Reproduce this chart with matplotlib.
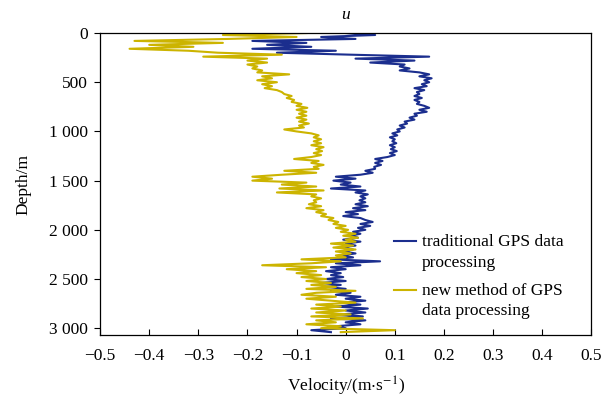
import numpy as np
import matplotlib
matplotlib.use('Agg')
import matplotlib.pyplot as plt
from matplotlib.legend_handler import HandlerLine2D

plt.rcParams['font.family'] = ['Liberation Serif', 'DejaVu Serif']
plt.rcParams['mathtext.fontset'] = 'stix'

# depth grid (m), one reading every 20 m
depth = list(range(0, 3060, 20))

# traditional GPS data processing
u_traditional = [
    0.0, 0.06, -0.05, 0.02, -0.19, -0.08, -0.16, -0.07, -0.19, -0.02,
    -0.14, 0.01, 0.17, 0.02, 0.14, 0.05, 0.12, 0.11, 0.13, 0.11,
    0.15, 0.17, 0.15, 0.175, 0.16, 0.17, 0.155, 0.165, 0.14, 0.16,
    0.145, 0.15, 0.14, 0.155, 0.14, 0.15, 0.145, 0.16, 0.17, 0.15,
    0.165, 0.14, 0.145, 0.13, 0.14, 0.12, 0.125, 0.11, 0.12, 0.105,
    0.11, 0.095, 0.105, 0.09, 0.1, 0.095, 0.103, 0.09, 0.1, 0.092,
    0.104, 0.09, 0.1, 0.085, 0.06, 0.075, 0.06, 0.072, 0.058, 0.06,
    0.04, 0.055, 0.03, -0.02, 0.02, -0.025, 0.01, -0.01, 0.03, -0.03,
    0.04, 0.02, 0.045, 0.03, 0.04, 0.028, 0.04, 0.02, 0.045, 0.015,
    0.04, 0.0, 0.025, -0.005, 0.03, 0.04, 0.055, 0.03, 0.05, 0.025,
    0.04, 0.015, 0.03, 0.01, 0.025, -0.005, 0.03, 0.0, 0.02, -0.01,
    0.015, -0.005, 0.02, -0.01, 0.015, -0.03, 0.07, -0.02, 0.03, -0.03,
    0.0, -0.04, -0.01, -0.03, -0.005, -0.04, 0.0, -0.05, -0.01, -0.04,
    0.0, -0.03, 0.01, -0.02, 0.03, 0.0, 0.04, -0.01, 0.03, -0.02,
    0.045, 0.0, 0.04, -0.01, 0.035, -0.03, 0.04, 0.0, 0.03, -0.02,
    0.0, -0.07, -0.03,
]

# new method of GPS data processing
u_new = [
    -0.08, -0.25, -0.1, -0.24, -0.43, -0.25, -0.4, -0.31, -0.44, -0.32,
    -0.26, -0.13, -0.29, -0.16, -0.2, -0.16, -0.2, -0.18, -0.19, -0.17,
    -0.18, -0.115, -0.17, -0.15, -0.18, -0.14, -0.17, -0.15, -0.165, -0.14,
    -0.13, -0.125, -0.11, -0.12, -0.105, -0.11, -0.09, -0.1, -0.078, -0.1,
    -0.08, -0.095, -0.08, -0.1, -0.08, -0.095, -0.075, -0.095, -0.085, -0.125,
    -0.1, -0.07, -0.055, -0.065, -0.05, -0.065, -0.05, -0.07, -0.045, -0.06,
    -0.048, -0.065, -0.05, -0.07, -0.105, -0.055, -0.07, -0.045, -0.065, -0.055,
    -0.125, -0.06, -0.13, -0.19, -0.15, -0.19, -0.08, -0.13, -0.06, -0.135,
    -0.045, -0.14, -0.06, -0.07, -0.05, -0.065, -0.06, -0.075, -0.05, -0.08,
    -0.045, -0.06, -0.04, -0.05, -0.025, -0.035, -0.015, -0.025, 0.0, -0.02,
    0.005, -0.01, 0.02, -0.005, 0.025, 0.0, 0.02, -0.03, 0.015, -0.025,
    0.02, -0.02, 0.01, -0.02, 0.0, -0.09, -0.01, -0.07, -0.17, -0.04,
    -0.12, -0.06, -0.1, -0.05, -0.09, -0.04, -0.08, -0.03, -0.07, -0.02,
    -0.08, 0.02, -0.06, -0.09, -0.02, -0.08, -0.03, 0.02, -0.06, -0.01,
    -0.07, 0.0, -0.06, 0.01, -0.07, 0.035, -0.06, -0.02, -0.08, -0.01,
    -0.05, 0.1, -0.01,
]

xticks = [-0.5, -0.4, -0.3, -0.2, -0.1, 0, 0.1, 0.2, 0.3, 0.4, 0.5]
xtick_labels = ['\u22120.5', '\u22120.4', '\u22120.3', '\u22120.2', '\u22120.1',
                '0', '0.1', '0.2', '0.3', '0.4', '0.5']
yticks = [0, 500, 1000, 1500, 2000, 2500, 3000]
ytick_labels = ['0', '500', '1 000', '1 500', '2 000', '2 500', '3 000']

fs = 12.5


# legend line sits level with the first line of a two-line label
class FirstLineHandler(HandlerLine2D):
    def create_artists(self, legend, orig_handle, xdescent, ydescent,
                       width, height, fontsize, trans):
        arts = super().create_artists(legend, orig_handle, xdescent, ydescent,
                                      width, height, fontsize, trans)
        for a in arts:
            y = np.asarray(a.get_ydata(), dtype=float)
            a.set_ydata(y + 0.65 * fontsize)
        return arts


fig = plt.figure(figsize=(6.14, 3.98), dpi=100)
ax = fig.add_axes([0.163, 0.158, 0.8, 0.759])

l1, = ax.plot(u_traditional, depth, color='#1b2e8e', lw=1.5,
              label='traditional GPS data\nprocessing')
l2, = ax.plot(u_new, depth, color='#ccb400', lw=1.5,
              label='new method of GPS\ndata processing')

ax.set_xlim(-0.5, 0.5)
ax.set_ylim(3070, 0)
ax.set_xticks(xticks)
ax.set_xticklabels(xtick_labels, fontsize=fs)
ax.set_yticks(yticks)
ax.set_yticklabels(ytick_labels, fontsize=fs)
ax.tick_params(axis='x', direction='in', length=4, width=0.8, pad=9)
ax.tick_params(axis='y', direction='out', length=4, width=0.8, pad=5)
for s in ax.spines.values():
    s.set_linewidth(0.9)

ax.set_xlabel(r'Velocity/(m$\cdot$s$^{-1}$)', fontsize=fs, labelpad=8)
ax.set_ylabel('Depth/m', fontsize=fs, labelpad=12)
ax.set_title('u', fontstyle='italic', fontsize=fs, pad=10)

leg = ax.legend(loc='upper left', bbox_to_anchor=(0.566, 0.385), frameon=False,
                fontsize=fs, handlelength=1.3, handletextpad=0.3,
                labelspacing=0.7,
                handler_map={l1: FirstLineHandler(), l2: FirstLineHandler()})
for t in leg.get_texts():
    t.set_linespacing(1.35)

fig.savefig('out.png', dpi=100)
